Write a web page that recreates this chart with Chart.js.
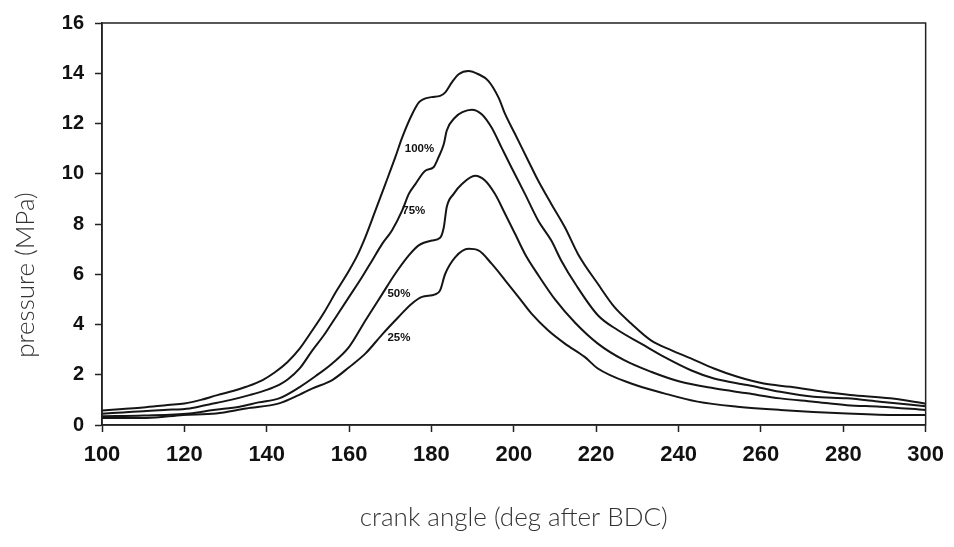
<!DOCTYPE html>
<html>
<head>
<meta charset="utf-8">
<script src="https://cdn.jsdelivr.net/npm/chart.js@4"></script>
<style>
html,body{margin:0;padding:0;background:#fff;}
#wrap{width:954px;height:547px;position:relative;}
</style>
</head>
<body>
<div id="wrap"><canvas id="c" width="954" height="547"></canvas></div>
<script>
// ---- data ----
const xTicks = [100,120,140,160,180,200,220,240,260,280,300];
const yTicks = [0,2,4,6,8,10,12,14,16];

const angle100 = [100,105,110,116,120,124,128,132,135,139,142,145,148,151,154,157,160,162,164,166.4,168.8,171.2,172.9,175.3,177,178.1,180,182.1,183.3,185,186.6,189,191.4,193.8,196.3,197.9,200.3,203.5,205.9,209.1,212.4,215.6,220.4,224.4,228.5,233.3,238.2,243,248.6,254.3,260.7,267.2,275.2,281.7,291.4,300];
const p100 = [0.58,0.64,0.7,0.8,0.86,1.0,1.19,1.36,1.52,1.79,2.1,2.5,3.04,3.75,4.5,5.35,6.15,6.75,7.5,8.54,9.59,10.65,11.45,12.37,12.85,12.97,13.05,13.1,13.23,13.65,13.96,14.09,13.96,13.7,13.03,12.37,11.58,10.52,9.73,8.8,7.87,6.8,5.62,4.7,4.04,3.37,2.98,2.65,2.25,1.92,1.65,1.52,1.32,1.19,1.06,0.85];

const angle75 = [100,105,110,115,121.3,126,131,136,140,143,145,148,151,154,157,160,163,165.6,168,170.4,172.9,174.5,176.1,178.5,180.5,181.7,183,183.7,185.8,187.5,189.8,192.2,194.6,197,199.4,202.7,205.9,209.1,211.5,215,220.4,225.3,230.9,236.5,243,248.6,256.7,264.7,272.8,280.9,288.9,300];
const p75 = [0.45,0.5,0.55,0.6,0.66,0.82,0.99,1.2,1.4,1.6,1.8,2.25,2.95,3.6,4.35,5.1,5.85,6.55,7.2,7.74,8.54,9.2,9.59,10.12,10.26,10.65,11.18,11.71,12.25,12.45,12.55,12.37,11.84,11.05,10.26,9.2,8.14,7.34,6.55,5.6,4.37,3.77,3.24,2.71,2.18,1.85,1.59,1.32,1.12,1.06,0.93,0.75];

const angle50 = [100,110,121.3,127,133.4,138,143,147.9,151.9,155.9,160,164,168,171.2,174.5,176.9,180.1,182.1,183,183.7,185.4,187.4,190.6,193,195.4,197.9,200.3,202.7,206,210,215,220.4,226.8,233.3,240.5,248.6,256.7,264.7,272.8,280.9,288.9,300];
const p50 = [0.35,0.38,0.46,0.6,0.73,0.9,1.06,1.5,1.95,2.45,3.11,4.17,5.2,6.02,6.75,7.15,7.34,7.45,7.87,8.67,9.2,9.59,9.92,9.73,9.2,8.4,7.61,6.81,5.95,5.0,4.05,3.24,2.58,2.12,1.72,1.46,1.26,1.06,0.93,0.79,0.73,0.6];

const angle25 = [100,110.8,119.7,127.7,135,143,147.9,151,155.9,160,164,168,172,175,177.7,180.9,182.1,183.3,185.8,189,191.4,194.6,197.9,201.1,204.3,208.3,212.4,217.2,220.4,228.5,236.5,244.6,254.3,264.7,280.9,293,300];
const p25 = [0.28,0.28,0.4,0.46,0.66,0.86,1.2,1.45,1.79,2.3,2.85,3.6,4.3,4.8,5.1,5.2,5.36,6.0,6.68,7.01,6.95,6.42,5.76,5.1,4.43,3.77,3.24,2.71,2.25,1.65,1.26,0.93,0.73,0.6,0.46,0.4,0.4];

const seriesNames = ['100%','75%','50%','25%'];
const labelAngles = [177.1,175.7,172.1,172.1];
const labelPressures = [11.0,8.54,5.24,3.45];

// ---- build datasets ----
function pts(a,p){ return a.map((x,i)=>({x:x,y:p[i]})); }
const seriesAngles = [angle100,angle75,angle50,angle25];
const seriesP = [p100,p75,p50,p25];
const datasets = seriesNames.map((n,i)=>({
  label:n,
  data:pts(seriesAngles[i],seriesP[i]),
  borderColor:'#151515',
  borderWidth:2,
  pointRadius:0,
  cubicInterpolationMode:'monotone',
  fill:false
}));

const framePlugin = {
  id:'frame',
  afterDatasetsDraw(chart){
    const {ctx, chartArea:a, scales} = chart;
    ctx.save();
    ctx.strokeStyle='#222';
    ctx.lineWidth=1.5;
    ctx.strokeRect(a.left, a.top, a.right-a.left, a.bottom-a.top);
    // curve labels
    ctx.fillStyle='#111';
    ctx.font='bold 11.5px "Liberation Sans", Arial, sans-serif';
    ctx.textAlign='center';
    ctx.textBaseline='middle';
    seriesNames.forEach((n,i)=>{
      ctx.fillText(n, scales.x.getPixelForValue(labelAngles[i]), scales.y.getPixelForValue(labelPressures[i]));
    });
    // y title
    ctx.font='300 26px Lato, "Open Sans", sans-serif';
    ctx.fillStyle='#333';
    ctx.translate(26, 275);
    ctx.rotate(-Math.PI/2);
    ctx.fillText('pressure (MPa)', 0, 0);
    ctx.restore();
  }
};

new Chart(document.getElementById('c'), {
  type:'line',
  data:{datasets:datasets},
  plugins:[framePlugin],
  options:{
    responsive:false,
    animation:false,
    events:[],
    layout:{padding:{left:0,right:25,top:22,bottom:0}},
    plugins:{legend:{display:false},tooltip:{enabled:false}},
    scales:{
      x:{
        type:'linear',
        min:100,max:300,
        afterBuildTicks(s){ s.ticks = xTicks.map(v=>({value:v})); },
        afterFit(s){ s.height = 122; },
        grid:{drawOnChartArea:false,drawTicks:true,tickLength:7,tickColor:'#222',tickWidth:1.5},
        border:{color:'#222',width:1.5},
        ticks:{color:'#111',padding:10,maxRotation:0,font:{family:'"Liberation Sans",Arial,sans-serif',size:22,weight:'bold'}},
        title:{display:true,text:'crank angle (deg after BDC)',color:'#333',padding:{top:0,bottom:14},font:{family:'Lato, "Open Sans", sans-serif',size:26,weight:'300'}}
      },
      y:{
        type:'linear',
        min:0,max:16,
        afterBuildTicks(s){ s.ticks = yTicks.map(v=>({value:v})); },
        afterFit(s){ s.width = 102; },
        grid:{drawOnChartArea:false,drawTicks:true,tickLength:7,tickColor:'#222',tickWidth:1.5},
        border:{color:'#222',width:1.5},
        ticks:{color:'#111',padding:11,font:{family:'"Liberation Sans",Arial,sans-serif',size:20,weight:'bold'}}
      }
    }
  }
});
</script>
</body>
</html>
